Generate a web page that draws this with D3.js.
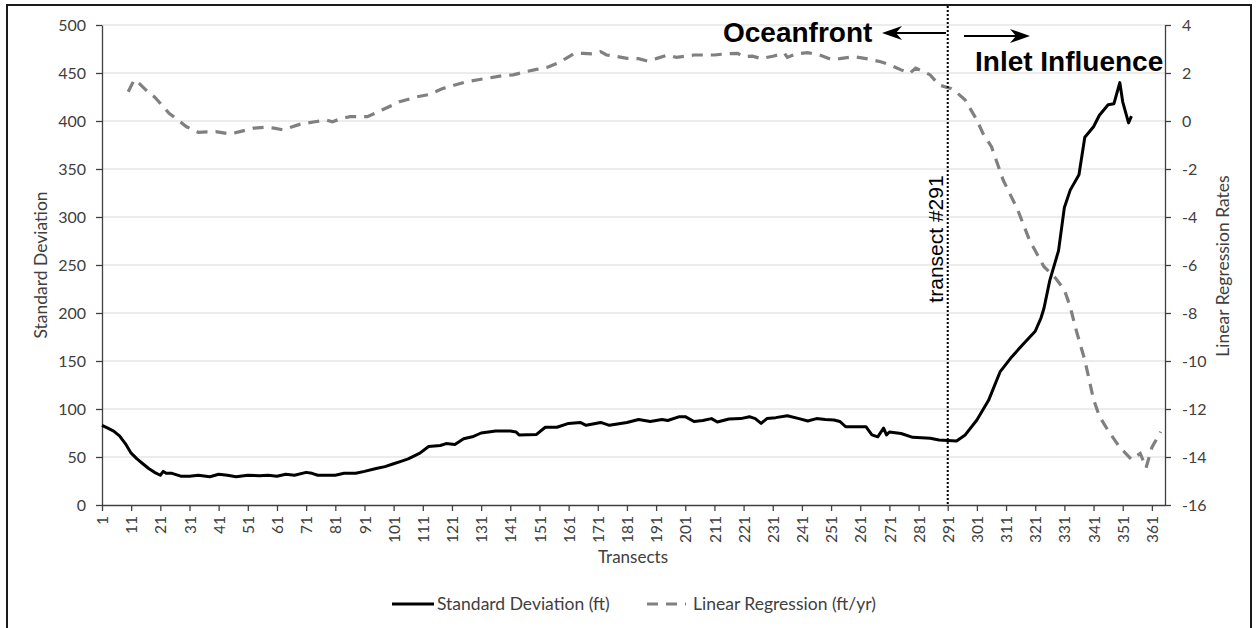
<!DOCTYPE html>
<html lang="en">
<head>
<meta charset="utf-8">
<title>Standard Deviation vs Linear Regression</title>
<script src="https://cdn.jsdelivr.net/npm/d3@7"></script>
<style>
body { margin: 0; background: #fff; }
</style>
</head>
<body>
<script>
// values: transect number -> value
var sdTransects = [1,3,5,7,9,11,13,15,17,19,21,22,23,25,28,31,34,38,41,44,47,51,55,58,61,64,67,71,73,75,78,81,84,88,91,95,98,101,103,106,110,113,117,119,122,125,128,131,136,141,143,144,150,153,157,161,165,167,172,175,181,185,189,193,195,199,201,204,207,210,212,216,220,223,225,227,229,232,236,240,243,246,249,252,254,256,263,265,267,269,270,271,275,279,285,288,294,297,301,305,309,313,317,321,323,324,326,329,331,333,336,338,341,343,346,348,350,351,353,354];
var sdValues   = [83,80,77,72,64,54,48,43,38,34,31,35,33,33,30,30,31,29.5,32,31,29.5,31,30.5,31,30,32,31,34,33,31,31,31,33,33,35,38,40,43,45,48,54,61,62,64,63,69,71,75,77,77,76,73,73.5,81,81,85,86,83,86,83,86,89,87,89,88,92,92,87,88,90,86.5,89.5,90,92,90,85,90,91,93,90,87.5,90,89,88.5,87,81.5,81.5,73,71,80,73,76,74.5,70.5,69.5,67.7,66.7,73,88.5,109,139,154.5,168,181,195,205,234,265,310,328,344,383,394,406,417,418,440,420,398,405];

var lrTransects = [10,12,13,16,19,22,24,27,30,34,37,40,45,49,53,57,60,63,66,69,74,78,80,83,86,92,97,103,109,113,118,122,126,130,134,138,142,146,150,154,157,160,163,166,169,172,174,177,181,185,188,191,195,198,201,204,208,211,215,219,221,224,227,231,235,236,239,243,247,251,254,259,263,268,271,275,278,280,282,285,288,292,294,297,301,303,306,310,315,319,324,328,331,333,335,338,341,343,346,350,354,357,359,361,364];
var lrValues   = [1.22,1.71,1.65,1.3,1.0,0.6,0.32,0.05,-0.24,-0.47,-0.45,-0.44,-0.54,-0.42,-0.3,-0.26,-0.3,-0.37,-0.25,-0.13,-0.03,0.04,-0.03,0.1,0.18,0.18,0.46,0.8,1.01,1.1,1.36,1.5,1.64,1.72,1.8,1.88,1.92,2.05,2.15,2.25,2.4,2.6,2.82,2.82,2.8,2.89,2.75,2.7,2.61,2.6,2.5,2.6,2.75,2.65,2.7,2.75,2.75,2.75,2.8,2.82,2.68,2.7,2.6,2.7,2.82,2.65,2.8,2.85,2.75,2.57,2.6,2.68,2.6,2.47,2.35,2.13,1.99,2.2,2.1,1.92,1.5,1.36,1.2,0.87,0.04,-0.5,-1.07,-2.46,-3.7,-4.96,-6.07,-6.55,-7.04,-7.74,-8.7,-9.96,-11.6,-12.3,-12.9,-13.6,-14.1,-13.85,-14.45,-13.6,-12.95];

var xTicks = d3.range(1, 362, 10);       // 1, 11, ... 361
var leftTicks = d3.range(0, 501, 50);    // 0 .. 500
var rightTicks = d3.range(-16, 5, 2);    // -16 .. 4
var markerTransect = 291;

var W = 1257, H = 628;
var plot = {left: 102, right: 1165, top: 25, bottom: 505};
var txt = "#404040";
var font = "Lato, 'Open Sans', sans-serif";

var svg = d3.select("body").append("svg")
  .attr("width", W).attr("height", H);

// outer frame (runs past the bottom of the picture)
svg.append("rect")
  .attr("x", 7).attr("y", 5).attr("width", 1244).attr("height", 640)
  .attr("fill", "#fff").attr("stroke", "#1a1a1a").attr("stroke-width", 2);

var x = d3.scaleLinear().domain([1, 365.5]).range([plot.left, plot.right]);
var yL = d3.scaleLinear().domain([0, 500]).range([plot.bottom, plot.top]);
var yR = d3.scaleLinear().domain([-16, 4]).range([plot.bottom, plot.top]);

// gridlines
svg.append("g").selectAll("line")
  .data(leftTicks.filter(function(d){ return d > 0; }))
  .enter().append("line")
  .attr("x1", plot.left).attr("x2", plot.right)
  .attr("y1", function(d){ return yL(d); })
  .attr("y2", function(d){ return yL(d); })
  .attr("stroke", "#d9d9d9").attr("stroke-width", 1.2);

// axes
function styleAxis(g) {
  g.selectAll(".domain").attr("stroke", "#404040").attr("stroke-width", 1.3);
  g.selectAll(".tick line").attr("stroke", "#404040").attr("stroke-width", 1.3);
  g.selectAll("text").attr("fill", txt).attr("font-family", font);
}

var gx = svg.append("g")
  .attr("transform", "translate(0," + plot.bottom + ")")
  .call(d3.axisBottom(x).tickValues(xTicks).tickSize(6).tickSizeOuter(0).tickFormat(d3.format("d")));
styleAxis(gx);
gx.selectAll("text")
  .attr("font-size", "15.5px")
  .attr("y", 0).attr("x", -11).attr("dy", "0.36em")
  .attr("transform", "rotate(-90)")
  .attr("text-anchor", "end");

var gl = svg.append("g")
  .attr("transform", "translate(" + plot.left + ",0)")
  .call(d3.axisLeft(yL).tickValues(leftTicks).tickSize(6).tickSizeOuter(0).tickPadding(10));
styleAxis(gl);
gl.selectAll("text").attr("font-size", "16px");

var gr = svg.append("g")
  .attr("transform", "translate(" + plot.right + ",0)")
  .call(d3.axisRight(yR).tickValues(rightTicks).tickSize(6).tickSizeOuter(0).tickPadding(11)
    .tickFormat(function(d){ return String(d); }));
styleAxis(gr);
gr.selectAll("text").attr("font-size", "16px");

// axis titles
svg.append("text").text("Transects")
  .attr("x", 633).attr("y", 563)
  .attr("text-anchor", "middle").attr("font-family", font).attr("font-size", "17px").attr("fill", txt);
svg.append("text").text("Standard Deviation")
  .attr("transform", "translate(47,265) rotate(-90)")
  .attr("text-anchor", "middle").attr("font-family", font).attr("font-size", "17.5px").attr("fill", txt);
svg.append("text").text("Linear Regression Rates")
  .attr("transform", "translate(1229,266) rotate(-90)")
  .attr("text-anchor", "middle").attr("font-family", font).attr("font-size", "17.5px").attr("fill", txt);

// series
var sdData = sdTransects.map(function(t, i){ return [t, sdValues[i]]; });
var lrData = lrTransects.map(function(t, i){ return [t, lrValues[i]]; });

svg.append("path").datum(lrData)
  .attr("d", d3.line().x(function(d){ return x(d[0]); }).y(function(d){ return yR(d[1]); }))
  .attr("fill", "none").attr("stroke", "#808080").attr("stroke-width", 3.2)
  .attr("stroke-dasharray", "11,8");

svg.append("path").datum(sdData)
  .attr("d", d3.line().x(function(d){ return x(d[0]); }).y(function(d){ return yL(d[1]); }))
  .attr("fill", "none").attr("stroke", "#000").attr("stroke-width", 3)
  .attr("stroke-linejoin", "round");

// transect #291 marker
var mx = x(markerTransect);
svg.append("line")
  .attr("x1", mx).attr("x2", mx).attr("y1", 6).attr("y2", plot.bottom)
  .attr("stroke", "#000").attr("stroke-width", 2).attr("stroke-dasharray", "2,2");
svg.append("text").text("transect #291")
  .attr("transform", "translate(" + (mx - 5) + ",239) rotate(-90)")
  .attr("text-anchor", "middle")
  .attr("font-family", "'Liberation Sans', Arial, sans-serif").attr("font-size", "21px").attr("fill", "#000");

// annotations
var bold = "'Liberation Sans', Arial, sans-serif";
svg.append("text").text("Oceanfront")
  .attr("x", 723).attr("y", 42)
  .attr("font-family", bold).attr("font-weight", "bold").attr("font-size", "28px").attr("fill", "#000");
svg.append("text").text("Inlet Influence")
  .attr("x", 975).attr("y", 71)
  .attr("font-family", bold).attr("font-weight", "bold").attr("font-size", "28px").attr("fill", "#000");

function arrow(x1, x2, y) {
  var dir = x2 > x1 ? 1 : -1;
  svg.append("line")
    .attr("x1", x1).attr("x2", x2 - dir * 8).attr("y1", y).attr("y2", y)
    .attr("stroke", "#000").attr("stroke-width", 2);
  svg.append("path")
    .attr("d", "M" + x2 + "," + y + " L" + (x2 - dir * 20) + "," + (y - 7) +
      " L" + (x2 - dir * 14) + "," + y + " L" + (x2 - dir * 20) + "," + (y + 7) + "Z")
    .attr("fill", "#000");
}
arrow(946, 882, 33);
arrow(964, 1030, 36);

// legend
var lg = svg.append("g").attr("transform", "translate(0,604)");
lg.append("line").attr("x1", 392).attr("x2", 434).attr("y1", 0).attr("y2", 0)
  .attr("stroke", "#000").attr("stroke-width", 3);
lg.append("text").text("Standard Deviation (ft)")
  .attr("x", 437).attr("y", 6)
  .attr("font-family", font).attr("font-size", "17.5px").attr("fill", txt);
lg.append("line").attr("x1", 647).attr("x2", 686).attr("y1", 0).attr("y2", 0)
  .attr("stroke", "#808080").attr("stroke-width", 3.2).attr("stroke-dasharray", "11,8");
lg.append("text").text("Linear Regression (ft/yr)")
  .attr("x", 693).attr("y", 6)
  .attr("font-family", font).attr("font-size", "17.5px").attr("fill", txt);
</script>
</body>
</html>
